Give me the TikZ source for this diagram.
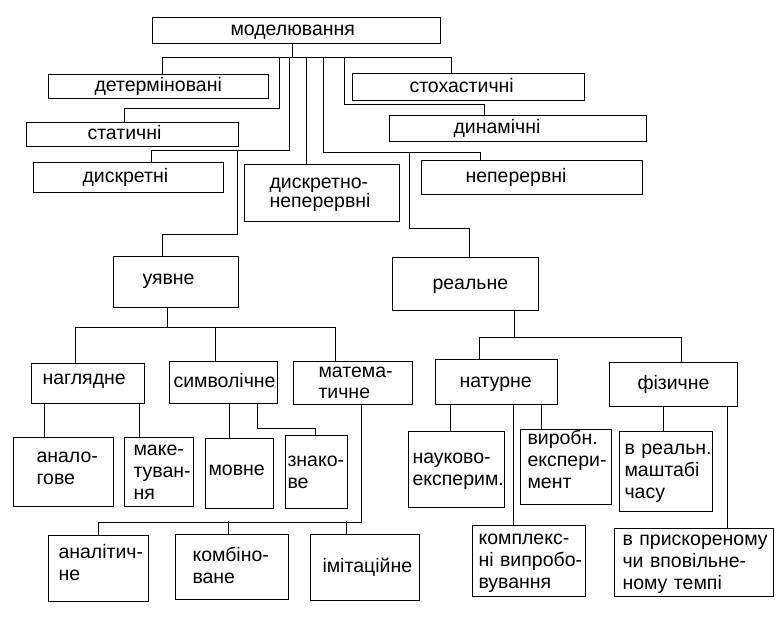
\documentclass[tikz,border=0pt]{standalone}
\usepackage{fontspec}
\setmainfont{Liberation Sans}
\exhyphenpenalty=10000
\hyphenpenalty=10000

\tikzset{
  blk/.style={draw, line width=1pt, anchor=north west, align=left,
    inner ysep=0pt, text height=14pt, text depth=4pt,
    font=\fontsize{19.5}{22}\selectfont},
  two/.style={text depth=26pt},
  three/.style={text depth=48pt},
  lnk/.style={line width=1pt}
}

\begin{document}
\begin{tikzpicture}[x=1pt, y=-1pt]
  \useasboundingbox (0,0) rectangle (781,616);

        \node[blk, minimum height=26pt, inner xsep=78pt, text width=132pt] (model) at (152,17) {моделювання};
        \node[blk, minimum height=24pt, inner xsep=46pt, text width=128pt] (det) at (48,74) {детерміновані};
        \node[blk, minimum height=27pt, inner xsep=57pt, text width=118pt] (stoch) at (352,73) {стохастичні};
        \node[blk, minimum height=24pt, inner xsep=61pt, text width=90pt] (stat) at (26,122) {статичні};
        \node[blk, minimum height=26pt, inner xsep=64pt, text width=129pt] (dyn) at (389,115) {динамічні};
        \node[blk, minimum height=30pt, inner xsep=49pt, text width=92pt] (discr) at (33,162) {дискретні};
        \node[blk, minimum height=57pt, inner xsep=25pt, text width=105pt, text depth=23pt,
          font=\fontsize{19.5}{19}\selectfont] (dn) at (244,164) {дискретно-\\неперервні};
        \node[blk, minimum height=34pt, inner xsep=44pt, text width=133pt] (cont) at (421,160) {неперервні};

        \node[blk, minimum height=51pt, inner xsep=29pt, text width=67pt, text depth=10pt] (imag) at (113,256) {уявне};
        \node[blk, minimum height=53pt, inner xsep=40pt, text width=66pt] (real) at (392,257) {реальне};

        \node[blk, minimum height=40pt, inner xsep=11pt, text width=91pt, text depth=12pt] (vis) at (31,363) {наглядне};
        \node[blk, minimum height=42pt, inner xsep=4pt, text width=100pt] (sym) at (169,361) {символічне};
        \node[blk, minimum height=43pt, inner xsep=25pt, text width=69pt, text depth=25pt,
          font=\fontsize{19.5}{21}\selectfont] (math) at (293,361) {матема-\\тичне};
        \node[blk, minimum height=45pt, inner xsep=24pt, text width=74pt] (nat) at (435,359) {натурне};
        \node[blk, minimum height=44pt, inner xsep=28pt, text width=72pt] (phys) at (609,362) {фізичне};

        \node[blk, minimum height=69pt, inner xsep=23pt, text width=54pt, text depth=34pt] (anal) at (13,437) {анало-\\гове};
        \node[blk, three, minimum height=69pt, inner xsep=9pt, text width=51pt] (mock) at (124,437) {маке-\\туван-\\ня};
        \node[blk, minimum height=70pt, inner xsep=3pt, text width=62pt, text depth=10pt] (lang) at (205,438) {мовне};
        \node[blk, two, minimum height=73pt, inner xsep=2pt, text width=58pt] (sign) at (285,435) {знако-\\ве};
        \node[blk, two, minimum height=76pt, inner xsep=4pt, text width=88pt] (sci) at (408,431) {науково-\\експерим.};
        \node[blk, minimum height=75pt, inner xsep=7pt, text width=77pt, text depth=60pt] (prod) at (520,429) {виробн.\\експери-\\мент};
        \node[blk, three, minimum height=80pt, inner xsep=5pt, text width=83pt] (rt) at (619,431) {в~реальн.\\маштабі\\часу};

        \node[blk, minimum height=66pt, inner xsep=10pt, text width=80pt, text depth=34pt] (analyt) at (48,535) {аналітич-\\не};
        \node[blk, two, minimum height=65pt, inner xsep=17pt, text width=79pt] (comb) at (175,534) {комбіно-\\ване};
        \node[blk, minimum height=66pt, inner xsep=12pt, text width=85pt] (simul) at (310,534) {імітаційне};
        \node[blk, three, minimum height=71pt, inner xsep=6pt, text width=101pt] (cmplx) at (472,525) {комплекс-\\ні~випробо-\\вування};
        \node[blk, three, minimum height=68pt, inner xsep=8pt, text width=143pt] (tempo) at (614,528) {в~прискореному\\чи~вповільне-\\ному~темпі};

	\draw[lnk] ([xshift=-4pt]model.south) -- ++(0,14) coordinate (mb);
	\draw[lnk] ([xshift=4pt]det.north) -- ++(0,-17) -| ([xshift=-17pt]stoch.north);
	\draw[lnk] ([xshift=-8pt]stat.north) -- ++(0,-14) -| ([xshift=-13pt]mb);
	\draw[lnk] ([xshift=23pt]discr.north) -- ++(0,-12) coordinate (db) -| ([xshift=-3pt]mb);
	\draw[lnk] ([xshift=-15.5pt]dn.north) -- ([xshift=14pt]mb);
	\draw[lnk] ([xshift=-51.5pt]cont.north) -- ++(0,-8) coordinate (cb) -| ([xshift=31pt]mb);
	\draw[lnk] ([xshift=-33.5pt]dyn.north) -- ++(0,-11) -| ([xshift=52pt]mb);

	\draw[lnk] ([xshift=-13.5pt]imag.north) -- ++(0,-22) -| ([xshift=86pt]db);
	\draw[lnk] ([xshift=4pt]real.north) -- ++(0,-29) -| ([xshift=-71pt]cb);

	\draw[lnk] ([xshift=-8.5pt]imag.south) -- ++(0,20);
	\draw[lnk] ([xshift=-12.5pt]vis.north) -- ++(0,-36) -| ([xshift=-17.5pt]math.north);
	\draw[lnk] ([xshift=-8pt]sym.north) -- ++(0,-34);
	\draw[lnk] ([xshift=-19pt]anal.north) -- ([xshift=-43.5pt]vis.south);
	\draw[lnk] ([xshift=-19.5pt]mock.north) -- ([xshift=51.5pt]vis.south);
	\draw[lnk] ([xshift=-10pt]lang.north) -- ([xshift=6pt]sym.south);
	\draw[lnk] ([xshift=34pt]sym.south) -- ++(0,24) -| ([xshift=-1pt]sign.north);
	\draw[lnk] ([xshift=8.5pt]math.south) -- ++(0,117) -| (analyt.north);
	\draw[lnk] ([xshift=-3.5pt]comb.north) -- ++(0,-13);
	\draw[lnk] ([xshift=-18.5pt]simul.north) -- ++(0,-13);

	\draw[lnk] ([xshift=49pt]real.south) -- ++(0,27);
	\draw[lnk] ([xshift=-17pt]nat.north) -- ++(0,-22) -| ([xshift=8pt]phys.north);
	\draw[lnk] ([xshift=-6pt]sci.north) -- ([xshift=-46pt]nat.south);
	\draw[lnk] ([xshift=-15.5pt]cmplx.north) -- ([xshift=17pt]nat.south);
	\draw[lnk] ([xshift=-24.5pt]prod.north) -- ([xshift=45pt]nat.south);
	\draw[lnk] ([xshift=-2.5pt]rt.north) -- ([xshift=-10pt]phys.south);
	\draw[lnk] ([xshift=33.5pt]tempo.north) -- ([xshift=54pt]phys.south);

\end{tikzpicture}
\end{document}
